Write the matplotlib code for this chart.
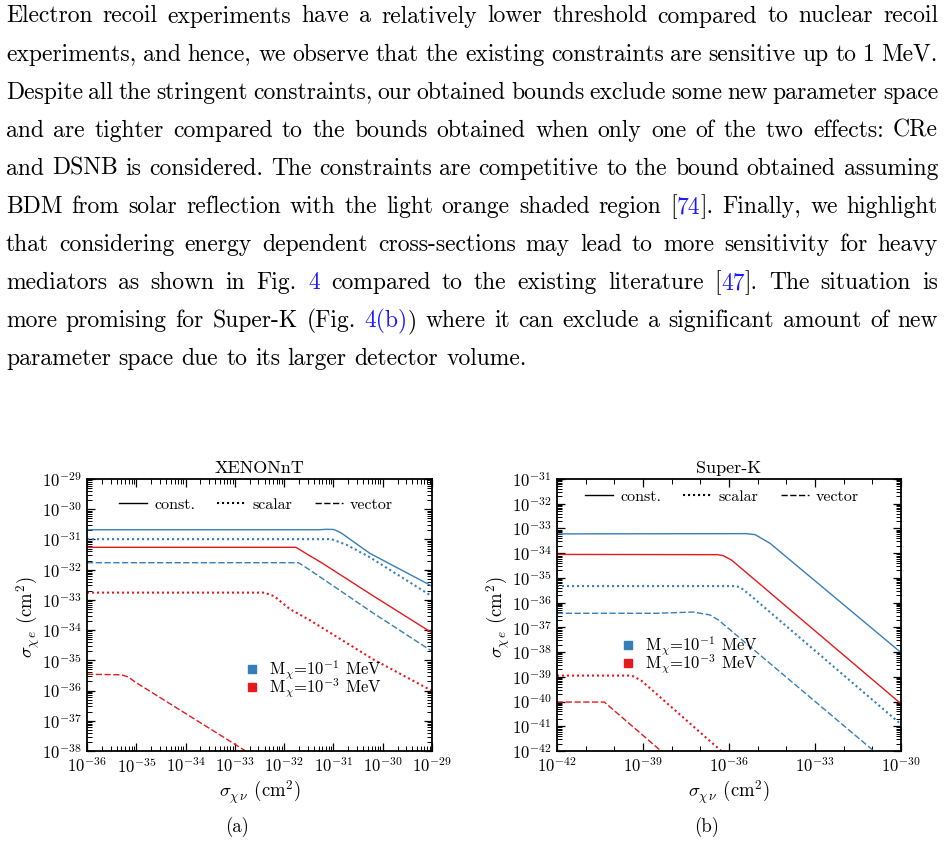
import re
import numpy as np
import matplotlib
matplotlib.use('Agg')
import matplotlib.pyplot as plt
from matplotlib.lines import Line2D
from matplotlib.ticker import LogLocator, FixedLocator, FuncFormatter, NullFormatter

plt.rcParams['font.family'] = 'cmr10'
plt.rcParams['mathtext.fontset'] = 'cm'
plt.rcParams['axes.unicode_minus'] = False

# ---- data: curves as log10 values ----
# XENONnT (a)
xe_blue_const_x = [-36, -31.3, -31.15, -31.0, -30.92, -30.83, -30.26, -29.11, -29.0]
xe_blue_const_y = [-30.68, -30.68, -30.665, -30.67, -30.72, -30.80, -31.46, -32.45, -32.55]
xe_blue_scal_x = [-36, -31.04, -30.73, -30.26, -29.04, -29.0]
xe_blue_scal_y = [-30.99, -30.99, -31.18, -31.59, -32.84, -32.88]
xe_blue_vec_x = [-36, -31.71, -31.48, -30.19, -29.0]
xe_blue_vec_y = [-31.77, -31.77, -32.01, -33.44, -34.70]
xe_red_const_x = [-36, -31.76, -31.51, -31.24, -30.19, -29.0]
xe_red_const_y = [-31.26, -31.26, -31.51, -31.77, -32.87, -34.09]
xe_red_scal_x = [-36, -32.4, -32.2, -31.88, -31.48, -30.19, -29.0]
xe_red_scal_y = [-32.76, -32.76, -32.88, -33.31, -33.67, -34.97, -36.01]
xe_red_vec_x = [-36, -35.3, -35.16, -35.03, -32.81, -32.7]
xe_red_vec_y = [-35.46, -35.48, -35.55, -35.71, -37.97, -38.1]

# Super-K (b)
sk_blue_const_x = [-42, -35.4, -35.09, -34.57, -30.0]
sk_blue_const_y = [-33.22, -33.21, -33.25, -33.60, -38.02]
sk_blue_scal_x = [-42, -35.8, -35.62, -35.27, -30.0]
sk_blue_scal_y = [-35.33, -35.33, -35.37, -35.69, -40.92]
sk_blue_vec_x = [-42, -38.5, -37.25, -36.66, -36.37, -31.02, -30.9]
sk_blue_vec_y = [-36.43, -36.43, -36.38, -36.50, -36.70, -41.93, -42.05]
sk_red_const_x = [-42, -36.4, -36.2, -35.91, -30.0]
sk_red_const_y = [-34.05, -34.06, -34.10, -34.28, -40.09]
sk_red_scal_x = [-42, -39.5, -39.34, -39.05, -36.31, -36.2]
sk_red_scal_y = [-38.95, -38.95, -38.98, -39.16, -41.96, -42.07]
sk_red_vec_x = [-42, -40.35, -38.41, -38.3]
sk_red_vec_y = [-40.02, -40.02, -41.96, -42.07]

style_labels = ['const.', 'scalar', 'vector']
mass_labels = [r'M$_\chi$=10$^{-1}$ MeV', r'M$_\chi$=10$^{-3}$ MeV']

para_lines = [
    "Electron recoil experiments have a relatively lower threshold compared to nuclear recoil",
    "experiments, and hence, we observe that the existing constraints are sensitive up to 1 MeV.",
    "Despite all the stringent constraints, our obtained bounds exclude some new parameter space",
    "and are tighter compared to the bounds obtained when only one of the two effects: CRe",
    "and DSNB is considered. The constraints are competitive to the bound obtained assuming",
    "BDM from solar reflection with the light orange shaded region [{74}]. Finally, we highlight",
    "that considering energy dependent cross-sections may lead to more sensitivity for heavy",
    "mediators as shown in Fig. {4} compared to the existing literature [{47}]. The situation is",
    "more promising for Super-K (Fig. {4(b)}) where it can exclude a significant amount of new",
    "parameter space due to its larger detector volume.",
]

blue = '#377eb8'
red = '#e41a1c'
link = '#1a1aff'
W, H = 944, 844

fig = plt.figure(figsize=(W / 100, H / 100), dpi=100)

ls_const = '-'
ls_scal = (0, (1, 1.4))
ls_vec = (0, (4.5, 1.8))


def fmt(v, p):
    return r'$10^{%d}$' % int(round(np.log10(v)))


def setup(ax, xlim, ylim, xmaj):
    ax.set_xscale('log')
    ax.set_yscale('log')
    ax.set_xlim(10.0 ** xlim[0], 10.0 ** xlim[1])
    ax.set_ylim(10.0 ** ylim[0], 10.0 ** ylim[1])
    if xmaj is None:
        ax.xaxis.set_major_locator(LogLocator(base=10, numticks=100))
        ax.xaxis.set_minor_locator(LogLocator(base=10, subs=np.arange(2, 10), numticks=100))
    else:
        ax.xaxis.set_major_locator(FixedLocator([10.0 ** e for e in xmaj]))
        ax.xaxis.set_minor_locator(LogLocator(base=10, subs=(1.0,), numticks=100))
    ax.yaxis.set_major_locator(LogLocator(base=10, numticks=100))
    ax.yaxis.set_minor_locator(LogLocator(base=10, subs=np.arange(2, 10), numticks=100))
    ax.xaxis.set_major_formatter(FuncFormatter(fmt))
    ax.yaxis.set_major_formatter(FuncFormatter(fmt))
    ax.xaxis.set_minor_formatter(NullFormatter())
    ax.yaxis.set_minor_formatter(NullFormatter())
    ax.tick_params(which='both', direction='in', top=True, right=True, labelsize=12)
    ax.tick_params(which='major', length=6, width=0.9, pad=4)
    ax.tick_params(which='minor', length=3.5, width=0.7)
    for s in ax.spines.values():
        s.set_linewidth(1.3)
    ax.set_xlabel(r'$\sigma_{\chi\,\nu}$ (cm$^2$)', fontsize=13.5, va='center')
    ax.set_ylabel(r'$\sigma_{\chi\,e}$ (cm$^2$)', fontsize=13.5, va='center')


def curves(ax, data):
    for xs, ys, col, ls in data:
        lw = 1.5 if ls == ls_scal else 1.0
        ax.plot(10.0 ** np.array(xs), 10.0 ** np.array(ys), color=col, ls=ls, lw=lw)


def legends(ax, style_anchor, mass_anchor):
    hs = [Line2D([], [], color='k', ls=ls_const, lw=1.0),
          Line2D([], [], color='k', ls=ls_scal, lw=1.5),
          Line2D([], [], color='k', ls=ls_vec, lw=1.0)]
    l1 = ax.legend(hs, style_labels, loc='center', bbox_to_anchor=style_anchor, ncol=3,
                   frameon=False, fontsize=11.5, handlelength=1.75, handletextpad=0.45,
                   columnspacing=1.4, borderaxespad=0, borderpad=0)
    ax.add_artist(l1)
    ms = [Line2D([], [], color=blue, marker='s', ls='none', markersize=5.5),
          Line2D([], [], color=red, marker='s', ls='none', markersize=5.5)]
    ax.legend(ms, mass_labels, loc='center', bbox_to_anchor=mass_anchor, frameon=False,
              fontsize=12, handlelength=0.9, handletextpad=0.6, labelspacing=-0.3,
              borderaxespad=0, borderpad=0)


# (a) XENONnT
ax1 = fig.add_axes([87 / W, 1 - 751 / H, 345 / W, 272 / H])
setup(ax1, (-36, -29), (-38, -29), None)
curves(ax1, [
    (xe_blue_const_x, xe_blue_const_y, blue, ls_const),
    (xe_blue_scal_x, xe_blue_scal_y, blue, ls_scal),
    (xe_red_const_x, xe_red_const_y, red, ls_const),
    (xe_blue_vec_x, xe_blue_vec_y, blue, ls_vec),
    (xe_red_scal_x, xe_red_scal_y, red, ls_scal),
    (xe_red_vec_x, xe_red_vec_y, red, ls_vec),
])
ax1.set_title('XENONnT', fontsize=13, pad=4)
ax1.xaxis.set_label_coords(0.5, (751 - 792) / 272)
ax1.yaxis.set_label_coords((28 - 87) / 345, 0.493)
legends(ax1, ((256 - 87) / 345, (751 - 505) / 272), (0.656, (751 - 679) / 272))

# (b) Super-K
ax2 = fig.add_axes([557 / W, 1 - 751 / H, 344 / W, 272 / H])
setup(ax2, (-42, -30), (-42, -31), [-42, -39, -36, -33, -30])
curves(ax2, [
    (sk_blue_const_x, sk_blue_const_y, blue, ls_const),
    (sk_red_const_x, sk_red_const_y, red, ls_const),
    (sk_blue_scal_x, sk_blue_scal_y, blue, ls_scal),
    (sk_blue_vec_x, sk_blue_vec_y, blue, ls_vec),
    (sk_red_scal_x, sk_red_scal_y, red, ls_scal),
    (sk_red_vec_x, sk_red_vec_y, red, ls_vec),
])
ax2.set_title('Super-K', fontsize=13, pad=4)
ax2.xaxis.set_label_coords(0.5, (751 - 792) / 272)
ax2.yaxis.set_label_coords((498 - 557) / 344, 0.493)
legends(ax2, ((722 - 557) / 344, (751 - 497) / 272), (0.385, (751 - 655) / 272))

fig.text(237 / W, 1 - 827 / H, '(a)', fontsize=13.5, ha='center', va='center')
fig.text(707 / W, 1 - 827 / H, '(b)', fontsize=13.5, ha='center', va='center')

# ---- justified paragraph ----
fig.canvas.draw()
renderer = fig.canvas.get_renderer()
left_px, right_px = 6, 938
fs = 17
space_px = 0.333 * fs * 100 / 72
for i, line in enumerate(para_lines):
    y = 1 - (22.5 + 38.1 * i) / H
    words = []
    for w in line.split(' '):
        pieces = []
        for part in re.split(r'(\{[^}]*\})', w):
            if not part:
                continue
            col = link if part.startswith('{') else 'black'
            t = fig.text(0, y, part.strip('{}'), color=col, fontsize=fs,
                         ha='left', va='baseline')
            pieces.append((t, t.get_window_extent(renderer).width))
        words.append(pieces)
    widths = [sum(p[1] for p in pcs) for pcs in words]
    if i < len(para_lines) - 1:
        gap = (right_px - left_px - sum(widths)) / (len(words) - 1)
    else:
        gap = space_px
    x = left_px
    for pcs, wd in zip(words, widths):
        xx = x
        for t, wp in pcs:
            t.set_x(xx / W)
            xx += wp
        x += wd + gap

fig.savefig('out.png', dpi=100)
